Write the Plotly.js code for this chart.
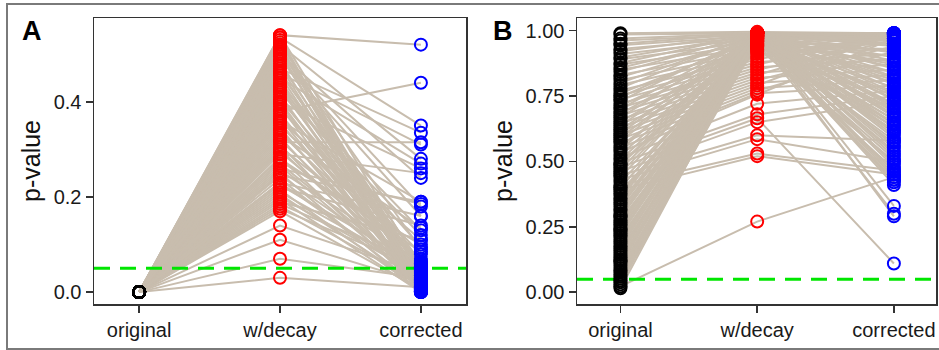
<!DOCTYPE html>
<html>
<head>
<meta charset="utf-8">
<script src="https://cdn.plot.ly/plotly-3.0.1.min.js"></script>
<style>html,body{margin:0;padding:0;background:#fff;}#chart{width:939px;height:350px;}</style>
</head>
<body>
<div id="chart"></div>
<script>
// ---------- data ----------
const categories = ["original", "w/decay", "corrected"];
const threshold = 0.05;

// Panel A (original p-values are all 0)
const origA = [0,0,0,0,0,0,0,0,0,0, 0,0,0,0,0,0,0,0,0,0, 0,0,0,0,0,0,0,0,0,0,
               0,0,0,0,0,0,0,0,0,0, 0,0,0,0,0,0,0,0,0,0, 0,0,0,0,0,0,0,0,0,0,
               0,0,0,0,0,0,0,0,0,0, 0,0,0,0,0,0,0,0,0,0, 0,0,0,0,0,0,0,0,0,0];
const decayA = [0.54,0.38,0.535,0.47,0.315,0.52,0.45,0.29,0.50,0.36,
                0.26,0.49,0.22,0.33,0.42,0.19,0.51,0.28,0.03,0.07,
                0.11,0.14,0.17,0.175,0.18,0.185,0.195,0.20,0.205,0.21,
                0.215,0.225,0.23,0.238,0.245,0.25,0.255,0.265,0.27,0.275,
                0.283,0.295,0.30,0.305,0.31,0.32,0.325,0.335,0.34,0.345,
                0.35,0.355,0.365,0.37,0.375,0.385,0.39,0.395,0.40,0.405,
                0.41,0.415,0.425,0.43,0.435,0.44,0.445,0.455,0.46,0.465,
                0.475,0.48,0.485,0.495,0.50,0.505,0.51,0.515,0.52,0.525,
                0.53,0.535,0.54,0.245,0.40,0.46,0.50,0.36,0.43,0.23];
const corrA = [0.52,0.44,0.35,0.335,0.315,0.28,0.27,0.25,0.24,0.19,
               0.185,0.16,0.14,0.135,0.12,0.11,0.09,0.085,0.01,0.03,
               0.02,0.04,0.005,0.05,0.02,0.06,0.0,0.035,0.012,0.045,
               0.003,0.055,0.025,0.008,0.04,0.0,0.062,0.015,0.03,0.10,
               0.005,0.048,0.018,0.07,0.002,0.038,0.01,0.052,0.022,0.0,
               0.065,0.028,0.006,0.043,0.015,0.08,0.001,0.035,0.012,0.058,
               0.025,0.004,0.047,0.019,0.13,0.0,0.032,0.011,0.054,0.024,
               0.003,0.041,0.016,0.06,0.027,0.007,0.044,0.014,0.0,0.036,
               0.021,0.009,0.05,0.19,0.26,0.31,0.18,0.11,0.095,0.16];

// Panel B
const origB = [0.99,0.985,0.97,0.962,0.95,0.944,0.93,0.921,0.91,0.897,
               0.89,0.876,0.87,0.858,0.85,0.842,0.83,0.822,0.81,0.80,
               0.792,0.78,0.771,0.76,0.752,0.745,0.737,0.73,0.72,0.713,
               0.705,0.70,0.69,0.683,0.675,0.668,0.66,0.652,0.645,0.637,
               0.63,0.622,0.615,0.607,0.60,0.592,0.585,0.577,0.57,0.56,
               0.552,0.545,0.535,0.525,0.515,0.505,0.495,0.487,0.478,0.47,
               0.462,0.455,0.447,0.44,0.43,0.42,0.41,0.40,0.392,0.385,
               0.377,0.37,0.36,0.352,0.343,0.335,0.327,0.318,0.31,0.30,
               0.292,0.285,0.276,0.268,0.26,0.252,0.243,0.235,0.226,0.218,
               0.21,0.201,0.193,0.185,0.177,0.168,0.16,0.152,0.143,0.135,
               0.126,0.118,0.11,0.101,0.093,0.085,0.077,0.068,0.06,0.052,
               0.045,0.038,0.03,0.022,0.015,0.49,0.40,0.24,0.12,0.29];
const decayB = [0.995,0.99,0.99,0.985,0.99,0.98,0.975,0.99,0.97,0.985,
                0.96,0.99,0.95,0.98,0.94,0.99,0.93,0.975,0.92,0.985,
                0.91,0.99,0.90,0.965,0.89,0.98,0.88,0.99,0.87,0.955,
                0.86,0.99,0.85,0.97,0.84,0.99,0.83,0.945,0.82,0.985,
                0.81,0.96,0.80,0.99,0.79,0.975,0.78,0.99,0.77,0.935,
                0.76,0.99,0.755,0.98,0.72,0.99,0.68,0.965,0.665,0.99,
                0.65,0.985,0.60,0.99,0.585,0.97,0.53,0.99,0.52,0.95,
                0.99,0.98,0.99,0.925,0.99,0.975,0.99,0.96,0.985,0.99,
                0.97,0.99,0.945,0.99,0.98,0.99,0.96,0.99,0.975,0.99,
                0.94,0.99,0.985,0.99,0.97,0.99,0.955,0.99,0.98,0.99,
                0.965,0.99,0.975,0.99,0.95,0.99,0.985,0.99,0.97,0.99,
                0.96,0.99,0.98,0.27,0.99,0.99,0.985,0.99,0.98,0.99];
const corrB = [0.99,0.985,0.97,0.98,0.96,0.95,0.99,0.94,0.92,0.975,
               0.90,0.965,0.88,0.86,0.985,0.84,0.95,0.82,0.99,0.80,
               0.93,0.78,0.97,0.76,0.99,0.74,0.91,0.72,0.985,0.70,
               0.89,0.68,0.96,0.66,0.87,0.64,0.98,0.62,0.85,0.60,
               0.94,0.58,0.83,0.56,0.99,0.54,0.81,0.52,0.92,0.50,
               0.79,0.48,0.97,0.46,0.77,0.44,0.75,0.43,0.11,0.42,
               0.73,0.41,0.58,0.33,0.50,0.30,0.465,0.29,0.45,0.95,
               0.71,0.69,0.67,0.65,0.63,0.61,0.59,0.57,0.55,0.53,
               0.51,0.49,0.47,0.45,0.43,0.99,0.985,0.975,0.96,0.945,
               0.93,0.915,0.90,0.885,0.87,0.855,0.84,0.825,0.81,0.795,
               0.78,0.765,0.75,0.735,0.72,0.705,0.69,0.675,0.66,0.645,
               0.63,0.615,0.99,0.44,0.98,0.97,0.99,0.985,0.99,0.96];

// ---------- build traces ----------
const xpos = categories.map((c, i) => i + 1);
const tanLine = "rgb(200,189,174)";
const colors = ["#000000", "#ff0000", "#0000ff"];

function pairedLines(o, d, c, xa, ya) {
  const x = [], y = [];
  for (let i = 0; i < o.length; i++) {
    x.push(xpos[0], xpos[1], xpos[2], null);
    y.push(o[i], d[i], c[i], null);
  }
  return {x, y, xaxis: xa, yaxis: ya, type: "scatter", mode: "lines",
          line: {color: tanLine, width: 2}, hoverinfo: "skip", showlegend: false,
          connectgaps: false};
}
function markers(vals, k, xa, ya) {
  return {x: vals.map(() => xpos[k]), y: vals, xaxis: xa, yaxis: ya,
          type: "scatter", mode: "markers", showlegend: false,
          marker: {symbol: "circle-open", size: 12, color: colors[k],
                   line: {width: 2, color: colors[k]}}};
}
const xRangeA = [0.68, 3.32];
const xRangeB = [0.682, 3.308];
function thresholdLine(xr, xa, ya) {
  return {x: xr, y: [threshold, threshold], xaxis: xa, yaxis: ya, type: "scatter",
          mode: "lines", line: {color: "#00e600", width: 3, dash: "16px,10px"},
          hoverinfo: "skip", showlegend: false};
}

const data = [
  pairedLines(origA, decayA, corrA, "x", "y"),
  thresholdLine(xRangeA, "x", "y"),
  markers(origA, 0, "x", "y"), markers(decayA, 1, "x", "y"), markers(corrA, 2, "x", "y"),
  pairedLines(origB, decayB, corrB, "x2", "y2"),
  thresholdLine(xRangeB, "x2", "y2"),
  markers(origB, 0, "x2", "y2"), markers(decayB, 1, "x2", "y2"), markers(corrB, 2, "x2", "y2")
];

const W = 939, H = 350;
const font = "Liberation Sans, Arial, sans-serif";
const axisCommon = {showgrid: false, zeroline: false, showline: true, mirror: true,
  linecolor: "#333333", linewidth: 1.5, ticks: "outside", ticklen: 7, tickwidth: 1.5,
  tickcolor: "#333333", tickfont: {family: font, size: 20, color: "#1a1a1a"}};

const layout = {
  width: W, height: H, margin: {l: 0, r: 0, t: 0, b: 0},
  paper_bgcolor: "#ffffff", plot_bgcolor: "#ffffff", showlegend: false,
  xaxis: Object.assign({}, axisCommon, {domain: [94/W, 466/W], range: xRangeA,
    tickvals: xpos, ticktext: categories, anchor: "y"}),
  yaxis: Object.assign({}, axisCommon, {domain: [1 - 304/H, 1 - 18/H], range: [-0.025, 0.576],
    tickvals: [0, 0.2, 0.4], tickformat: ".1f", anchor: "x",
    title: {text: "p-value", font: {family: font, size: 25, color: "#111"}, standoff: 6}}),
  xaxis2: Object.assign({}, axisCommon, {domain: [577/W, 936/W], range: xRangeB,
    tickvals: xpos, ticktext: categories, anchor: "y2"}),
  yaxis2: Object.assign({}, axisCommon, {domain: [1 - 304/H, 1 - 18/H], range: [-0.045, 1.048],
    tickvals: [0, 0.25, 0.5, 0.75, 1.0], tickformat: ".2f", anchor: "x2",
    title: {text: "p-value", font: {family: font, size: 25, color: "#111"}, standoff: 6}}),
  shapes: [
    {type: "rect", xref: "paper", yref: "paper", x0: 7/W, x1: 1.02, y0: 1 - 349/H, y1: 1 - 4/H,
     line: {color: "#7a7a7a", width: 2}, fillcolor: "rgba(0,0,0,0)", layer: "below"}
  ],
  annotations: [
    {text: "<b>A</b>", xref: "paper", yref: "paper", x: 20/W, y: 1 - 14/H,
     xanchor: "left", yanchor: "top", showarrow: false,
     font: {family: font, size: 27, color: "#000"}},
    {text: "<b>B</b>", xref: "paper", yref: "paper", x: 491/W, y: 1 - 14/H,
     xanchor: "left", yanchor: "top", showarrow: false,
     font: {family: font, size: 27, color: "#000"}}
  ]
};

Plotly.newPlot("chart", data, layout, {displayModeBar: false, staticPlot: true});
</script>
</body>
</html>
